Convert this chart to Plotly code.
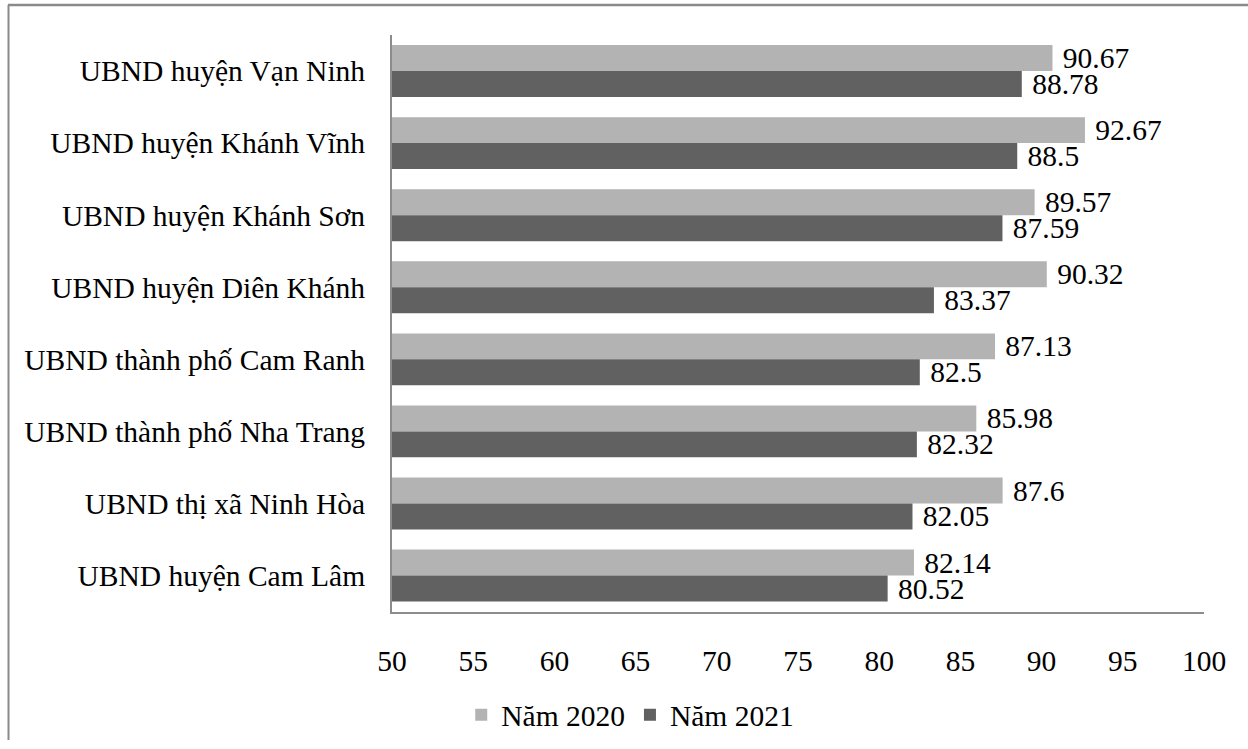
import plotly.graph_objects as go

categories = [
    "UBND huyện Vạn Ninh",
    "UBND huyện Khánh Vĩnh",
    "UBND huyện Khánh Sơn",
    "UBND huyện Diên Khánh",
    "UBND thành phố Cam Ranh",
    "UBND thành phố Nha Trang",
    "UBND thị xã Ninh Hòa",
    "UBND huyện Cam Lâm",
]
values_2020 = [90.67, 92.67, 89.57, 90.32, 87.13, 85.98, 87.6, 82.14]
values_2021 = [88.78, 88.5, 87.59, 83.37, 82.5, 82.32, 82.05, 80.52]
labels_2020 = ["90.67", "92.67", "89.57", "90.32", "87.13", "85.98", "87.6", "82.14"]
labels_2021 = ["88.78", "88.5", "87.59", "83.37", "82.5", "82.32", "82.05", "80.52"]
tick_vals = [50, 55, 60, 65, 70, 75, 80, 85, 90, 95, 100]

FONT = "Liberation Serif, Times New Roman, serif"
FS = 29.5

fig = go.Figure()
fig.add_trace(go.Bar(
    name="Năm 2020", y=categories, x=values_2020, orientation="h",
    marker=dict(color="#b3b3b3", line=dict(width=0)),
    text=labels_2020, texttemplate="\u00a0%{text}",
    textposition="outside", constraintext="none",
    cliponaxis=False, textfont=dict(family=FONT, size=FS, color="black"),
))
fig.add_trace(go.Bar(
    name="Năm 2021", y=categories, x=values_2021, orientation="h",
    marker=dict(color="#616161", line=dict(width=0)),
    text=labels_2021, texttemplate="\u00a0%{text}",
    textposition="outside", constraintext="none",
    cliponaxis=False, textfont=dict(family=FONT, size=FS, color="black"),
))

fig.update_layout(
    width=1248, height=749,
    margin=dict(l=392, r=44, t=35, b=126),
    paper_bgcolor="white", plot_bgcolor="white",
    barmode="group", bargap=0.28, bargroupgap=0,
    font=dict(family=FONT, size=FS, color="black"),
    legend=dict(
        orientation="h", xref="container", yref="container",
        x=0.505, y=1 - 715 / 749, xanchor="center", yanchor="middle",
        font=dict(family=FONT, size=FS, color="black"),
        itemwidth=30, tracegroupgap=0,
    ),
    showlegend=True,
)
fig.update_xaxes(
    range=[50, 100], tickvals=tick_vals, showgrid=False, zeroline=False,
    showline=True, linecolor="#8c8c8c", linewidth=2,
    ticks="", ticklabelstandoff=22,
    tickfont=dict(family=FONT, size=FS, color="black"),
)
fig.update_yaxes(
    autorange="reversed", showgrid=False, zeroline=False,
    showline=True, linecolor="#8c8c8c", linewidth=2,
    ticks="", ticklabelstandoff=19,
    tickfont=dict(family=FONT, size=FS, color="black"),
)
# outer frame (top and left edges)
fig.add_shape(type="line", xref="paper", yref="paper",
              x0=(8 - 392) / 812, x1=(1248 - 392) / 812,
              y0=1 + (35 - 4.5) / 588, y1=1 + (35 - 4.5) / 588,
              line=dict(color="#8a8a8a", width=2.5))
fig.add_shape(type="line", xref="paper", yref="paper",
              x0=(8.5 - 392) / 812, x1=(8.5 - 392) / 812,
              y0=1 + (35 - 4.5) / 588, y1=-(126 + 5) / 588,
              line=dict(color="#8a8a8a", width=2))

fig.write_html("out.html", config={"displayModeBar": False},
               post_script="document.body.style.margin='0';document.body.style.overflow='hidden';")
